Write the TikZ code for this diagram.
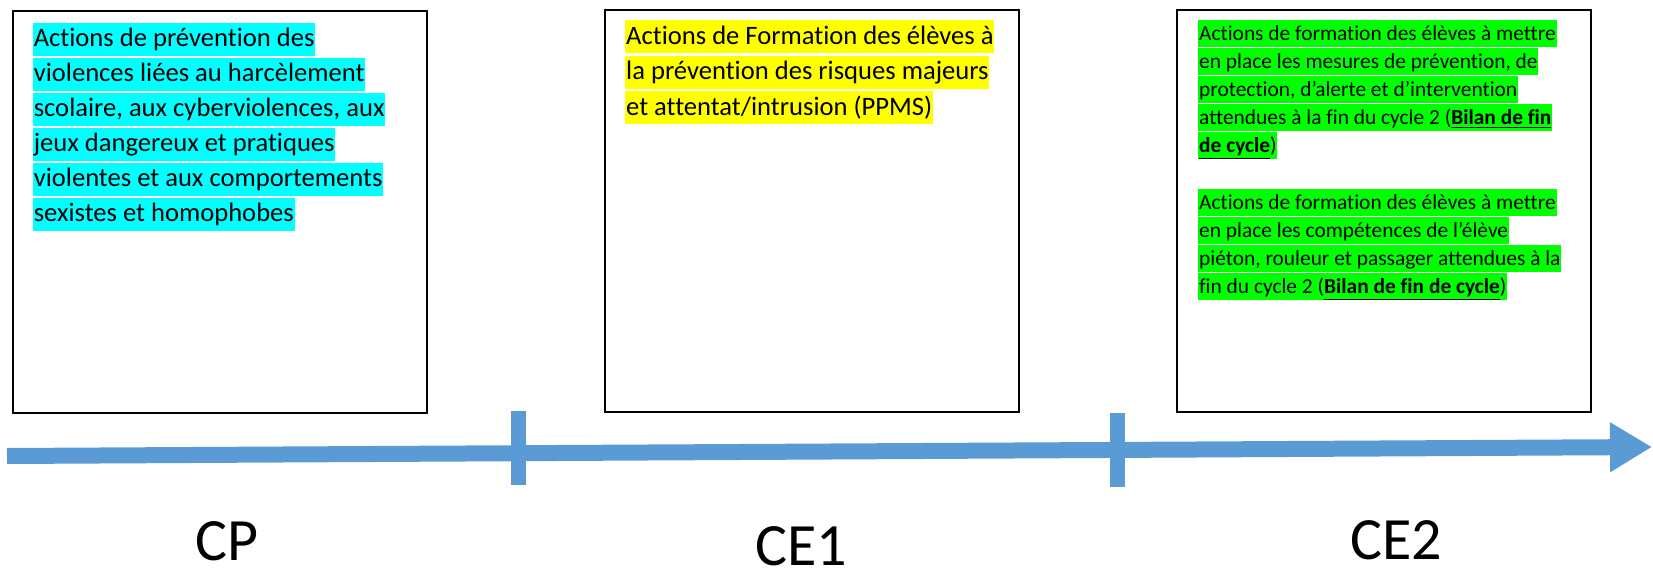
\documentclass[tikz,border=0pt]{standalone}
\usepackage{fontspec}
\setmainfont{Carlito}[Ligatures=NoCommon]
\usetikzlibrary{arrows.meta,calc}
\definecolor{axisblue}{HTML}{5B9BD5}
\definecolor{hlcyan}{HTML}{00FFFF}
\definecolor{hlyellow}{HTML}{FFFF00}
\definecolor{hlgreen}{HTML}{00FF00}
\tikzstyle{frame}=[draw,line width=1pt,minimum width=207pt,minimum height=201pt,anchor=north west,outer sep=0pt,inner sep=0pt]
\tikzstyle{bigline}=[anchor=north west,inner ysep=0pt,inner xsep=0.4pt,text height=12pt,text depth=4.5pt,font=\fontsize{13.3}{15}\selectfont]
\tikzstyle{smallline}=[anchor=north west,inner ysep=0pt,inner xsep=0.4pt,text height=10pt,text depth=3.5pt,font=\fontsize{10.7}{12}\selectfont]
\tikzstyle{axis}=[draw=axisblue,line width=8pt,-{Triangle[length=21pt,width=23.5pt]}]
\tikzstyle{tick}=[draw=axisblue,line width=7.5pt]
\tikzstyle{yearlabel}=[anchor=base,inner sep=0pt,font=\fontsize{30}{34}\selectfont]
\newcommand{\bilan}[1]{\underline{\textbf{#1}}}

\begin{document}
\begin{tikzpicture}[x=0.5pt,y=-0.5pt]
    \useasboundingbox (0,0) rectangle (1653,568);

    \foreach \pos/\name in {{(12.6,10.7)/cpbox},{(605,10)/ceabox},{(1177,10)/cebbox}}
        \node[frame] (\name) at \pos {};

    % highlighted lines of text
    \foreach \txt [count=\i] in {{Actions de prévention des},{violences liées au harcèlement},{scolaire, aux cyberviolences, aux},{jeux dangereux et pratiques},{violentes et aux comportements},{sexistes et homophobes}}
        \node[bigline,fill=hlcyan] (cpl\i) at ($(cpbox.north west)+(20,11.5+35*\i-35)$) {\txt};
    \foreach \txt [count=\i] in {{Actions de Formation des élèves à},{la prévention des risques majeurs},{et attentat/intrusion (PPMS)}}
        \node[bigline,fill=hlyellow] (ceal\i) at ($(ceabox.north west)+(20,10+35.5*\i-35.5)$) {\txt};
    \foreach \txt [count=\i] in {{Actions de formation des élèves à mettre},{en place les mesures de prévention, de},{protection, d’alerte et d’intervention},{attendues à la fin du cycle 2 (\bilan{Bilan de fin}},{\bilan{de cycle})}}
        \node[smallline,fill=hlgreen] (cebl\i) at ($(cebbox.north west)+(21,10+28*\i-28)$) {\txt};
    \foreach \txt [count=\i] in {{Actions de formation des élèves à mettre},{en place les compétences de l’élève},{piéton, rouleur et passager attendues à la},{fin du cycle 2 (\bilan{Bilan de fin de cycle})}}
        \node[smallline,fill=hlgreen] (cebm\i) at ($(cebbox.north west)+(21,179+28*\i-28)$) {\txt};

    % time axis
    \coordinate (axisstart) at (7,456);
    \coordinate (axisend) at (1652,447);
    \path[axis] (axisstart) -- (axisend);
    \foreach \t/\x/\ya/\yb in {ta/518/411/485, tb/1117/413/487} {
        \coordinate (\t top) at (\x,\ya);
        \coordinate (\t bot) at (\x,\yb);
        \path[tick] (\t top) -- (\t bot);
    }

    \node[yearlabel] (cp) at (227,560) {CP};
    \node[yearlabel] (cea) at (801,565) {CE1};
    \node[yearlabel] (ceb) at (1396,559) {CE2};
\end{tikzpicture}
\end{document}
